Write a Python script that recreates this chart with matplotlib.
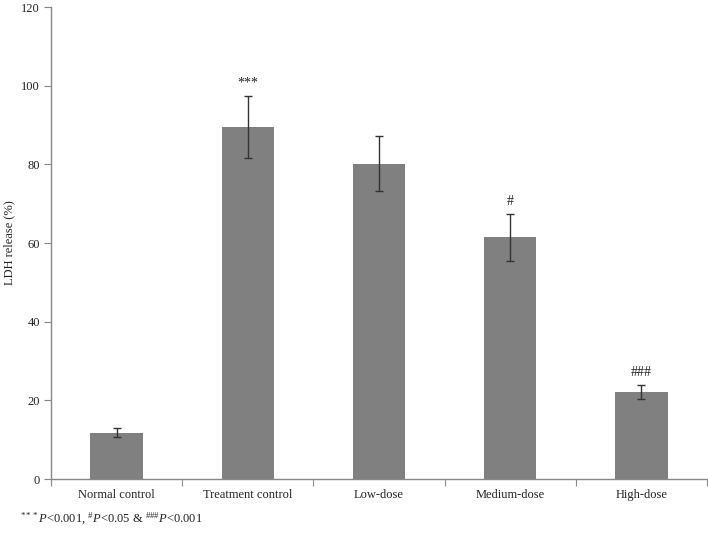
import matplotlib
matplotlib.use("Agg")
import matplotlib.pyplot as plt
import numpy as np

categories = ["Normal control", "Treatment control", "Low-dose", "Medium-dose", "High-dose"]
values = [11.8, 89.5, 80.2, 61.4, 22.2]
errors = [1.1, 8.0, 7.0, 6.0, 1.8]
annotations = ["", "***", "", "#", "###"]
yticks = [0, 20, 40, 60, 80, 100, 120]

plt.rcParams['font.family'] = ['Liberation Serif', 'DejaVu Serif']
plt.rcParams['mathtext.fontset'] = 'custom'
plt.rcParams['mathtext.rm'] = 'Liberation Serif'
plt.rcParams['mathtext.it'] = 'Liberation Serif:italic'

fig = plt.figure(figsize=(7.08, 5.33), dpi=100)
ax = fig.add_axes([51/708, 1-479/533, (707-51)/708, (479-7)/533])

x = np.arange(len(categories))
ax.bar(x, values, width=0.4, color='#808080', zorder=2)
ax.errorbar(x, values, yerr=errors, fmt='none', ecolor='#333333', elinewidth=1.0,
            capsize=3, capthick=1.0, zorder=3)
for xi, v, e, a in zip(x, values, errors, annotations):
    if a:
        ax.text(xi, v + e + 1.5, a, ha='center', va='bottom', fontsize=10, color='#222222')

ax.set_xlim(-0.5, len(categories) - 0.5)
ax.set_ylim(0, 120)
ax.set_yticks(yticks)
ax.set_yticklabels([str(t) for t in yticks], fontsize=9, color='#222222')
ax.set_xticks(np.arange(-0.5, len(categories), 1.0))
ax.set_xticklabels([])
ax.set_xticks(x, minor=True)
ax.set_xticklabels(categories, minor=True, fontsize=9, color='#222222')
ax.tick_params(axis='x', which='minor', length=0, pad=7)
ax.tick_params(axis='x', which='major', length=5, color='#888888', direction='out')
ax.tick_params(axis='y', length=5, color='#888888', direction='out', pad=3)

for s in ['top', 'right']:
    ax.spines[s].set_visible(False)
for s in ['left', 'bottom']:
    ax.spines[s].set_color('#888888')
    ax.spines[s].set_linewidth(1.0)

ax.set_ylabel("LDH release (%)", fontsize=9, color='#222222')
ax.yaxis.set_label_coords((15 - 51) / 656, 0.5)

fig.text(20/708, 1-519/533,
         r"$^{***}\mathit{P}$<0.001, $^{\#}\mathit{P}$<0.05 & $^{\#\#\#}\mathit{P}$<0.001",
         fontsize=9, color='#222222', va='center', ha='left')

fig.savefig("out.png", dpi=100)
